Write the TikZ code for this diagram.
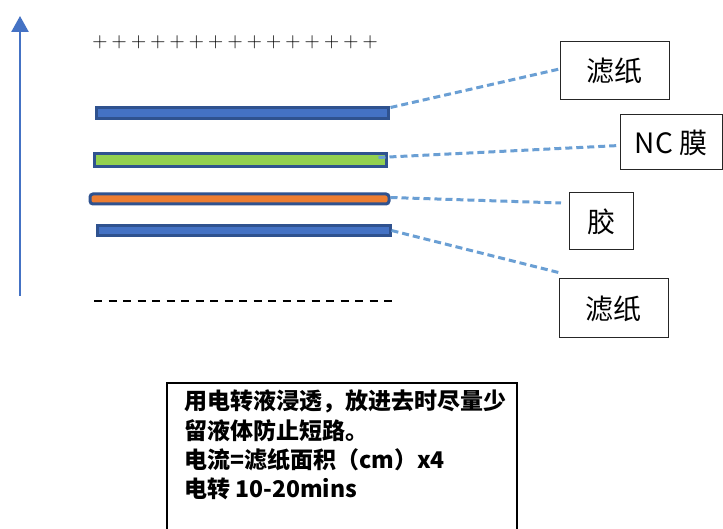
\documentclass[tikz,border=0pt]{standalone}
\usepackage{fontspec}
\newfontfamily\cjk{Noto Sans CJK SC}
\usetikzlibrary{arrows.meta}
\definecolor{arrowblue}{HTML}{4472C4}
\definecolor{linkblue}{HTML}{6A9FD4}
\definecolor{navy}{HTML}{2F528F}
\definecolor{paperblue}{HTML}{4472C4}
\definecolor{gelorange}{HTML}{ED7D31}
\definecolor{ncgreen}{HTML}{92D050}
\tikzset{
  layer/.style={draw=navy, line width=3pt, inner sep=0pt},
  labelbox/.style={draw=black!85, line width=1pt, fill=white, inner sep=0pt, font=\cjk\fontsize{28}{32}\selectfont},
  link/.style={draw=linkblue, line width=3pt, dash pattern=on 7pt off 4pt},
  plus/.style={inner sep=0pt, font=\fontsize{21}{21}\selectfont},
}
\begin{document}
\begin{tikzpicture}[x=1pt,y=-1pt]
\clip (0,0) rectangle (723,529);
\fill[white] (0,0) rectangle (723,529);
% current arrow
\coordinate (abot) at (20,296);
\coordinate (atop) at (20,16);
\draw[arrowblue, line width=2.6pt, -{Triangle[width=17pt,length=16pt]}] (abot) -- (atop);
% plus signs
\foreach \i in {0,...,14}{
  \node[plus] (p\i) at ({100+\i*19.3},42) {+};
}
% minus dashes
\coordinate (m1) at (94,301);
\coordinate (m2) at (392,301);
\draw[black, line width=2.2pt, dash pattern=on 8pt off 6.5pt] (m1) -- (m2);
% layers
\node[layer, fill=paperblue, minimum width=292pt, minimum height=11pt] (f1) at (242,113.5) {};
\node[layer, fill=ncgreen, minimum width=292pt, minimum height=13pt] (nc) at (240,160.5) {};
\node[layer, fill=gelorange, minimum width=299pt, minimum height=10pt, rounded corners=3pt] (gel) at (239.5,199) {};
\node[layer, fill=paperblue, minimum width=293pt, minimum height=10pt] (f2) at (243.5,230.5) {};
% labels
\node[labelbox, minimum width=109pt, minimum height=58pt] (b1) at (614.5,71) {滤纸};
\node[labelbox, minimum width=102pt, minimum height=55pt] (b2) at (671,142.5) {NC 膜};
\node[labelbox, minimum width=64pt, minimum height=57pt] (b3) at (601,221.5) {胶};
\node[labelbox, minimum width=109pt, minimum height=59pt] (b4) at (613.5,308.5) {滤纸};
% connectors
\coordinate (e3) at (561,203);
\draw[link] (f1.north east) ++(1,1) coordinate (s1) (s1) -- ([yshift=2pt]b1.west);
\draw[link] ([xshift=-9pt,yshift=-5pt]nc.north east) -- ([yshift=-3pt]b2.west);
\draw[link] ([yshift=-5pt]gel.north east) coordinate (s3) (s3) -- (e3);
\draw[link] (f2.east) -- ([yshift=6pt]b4.north west);
% note
\node[draw=black, line width=1.8pt, minimum width=350pt, minimum height=154pt, inner sep=0pt] (frame) at (342,460) {};
\node[anchor=north west, align=left, inner sep=0pt, font=\cjk\bfseries\fontsize{23}{29.2}\selectfont] (note) at (184,390)
  {用电转液浸透，放进去时尽量少\\留液体防止短路。\\电流=滤纸面积（cm）x4\\电转 10-20mins};
\end{tikzpicture}
\end{document}
